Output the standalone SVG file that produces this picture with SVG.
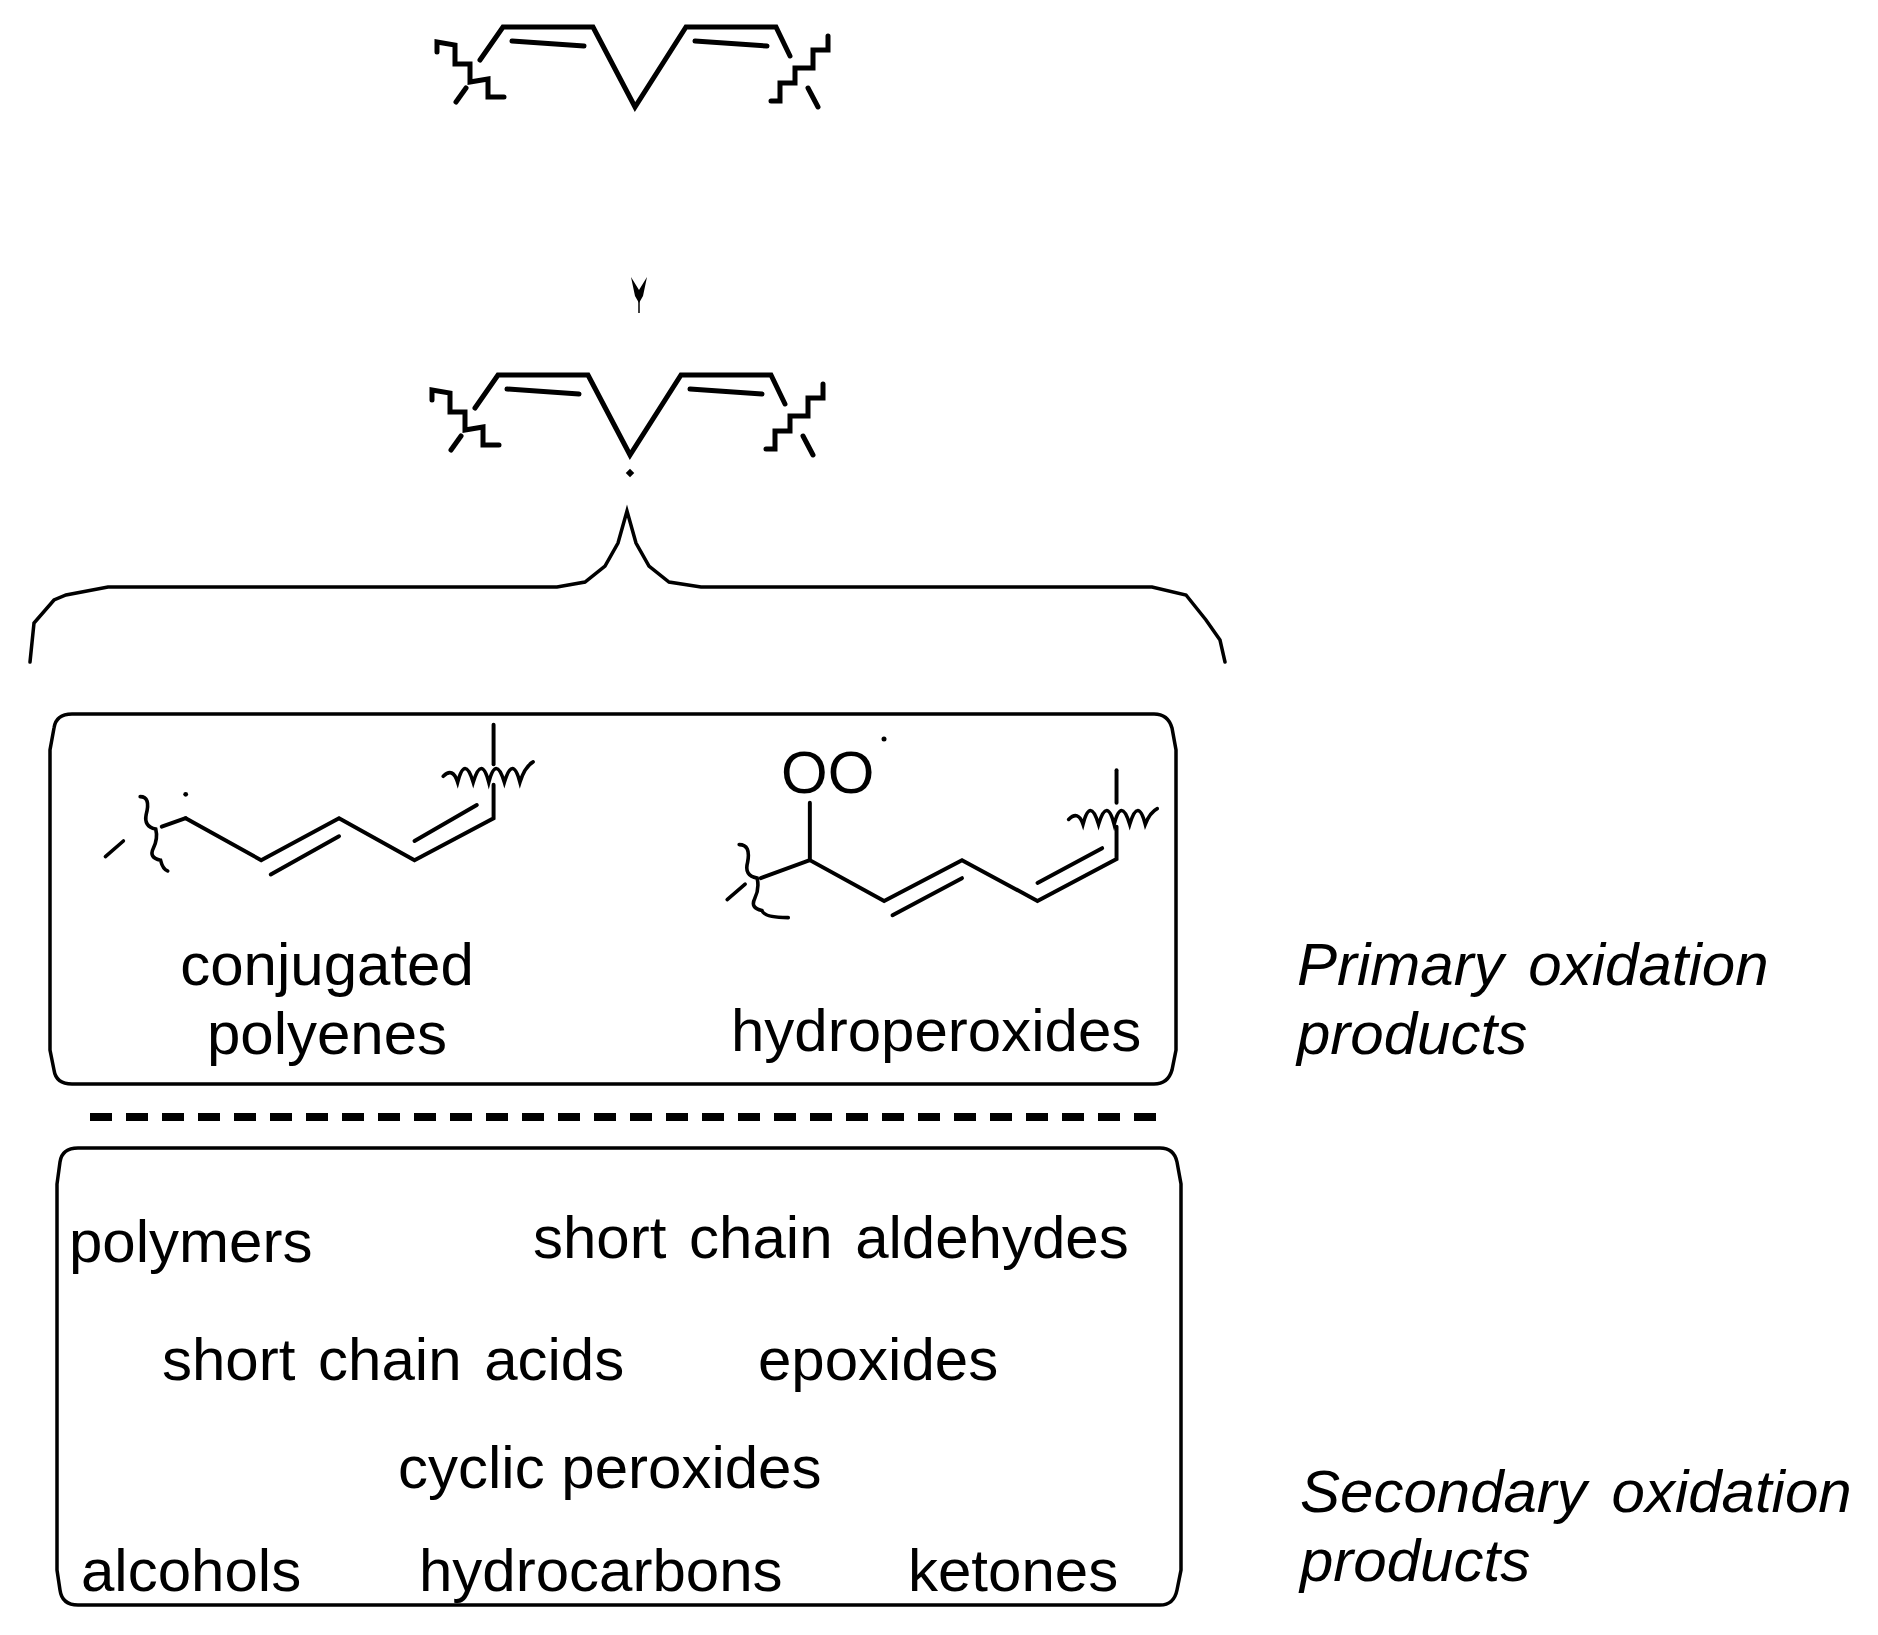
<svg xmlns="http://www.w3.org/2000/svg" width="1878" height="1635" viewBox="0 0 1878 1635">
<style>
.b{fill:none;stroke:#000;stroke-width:5;stroke-linecap:round;stroke-linejoin:miter}
.t{stroke-width:3}
.box{fill:none;stroke:#000;stroke-width:3.5}
text{font-family:"Liberation Sans",Arial,sans-serif;font-size:60px;fill:#000}
.i{font-style:italic}
</style>
<rect width="1878" height="1635" fill="#fff"/>
<g id="linoleic">
<polyline class="b" points="480,60 503,27 593,27 635,107 686,27 776,27 790,56"/>
<line class="b" x1="512" y1="41" x2="584" y2="46"/>
<line class="b" x1="695" y1="41" x2="767" y2="46"/>
<polyline class="b" points="437,52 437,42 455,45 455,64 470,64 470,82 488,79 488,97 504,97"/>
<line class="b" x1="456" y1="102" x2="466" y2="88"/>
<polyline class="b" points="828,36 828,50 813,50 813,68 795,68 795,83 780,83 780,101 771,101"/>
<line class="b" x1="808" y1="88" x2="818" y2="107"/>
</g>
<g id="arrow">
<path d="M631,277 L639,290 L647,277 L643,296 L639,303 L635,296 Z" fill="#000"/>
<line x1="639" y1="300" x2="639" y2="313" stroke="#000" stroke-width="1.5"/>
</g>
<g id="radical" transform="translate(-5,348)">
<polyline class="b" points="480,60 503,27 593,27 635,107 686,27 776,27 790,56"/>
<line class="b" x1="512" y1="41" x2="584" y2="46"/>
<line class="b" x1="695" y1="41" x2="767" y2="46"/>
<polyline class="b" points="437,52 437,42 455,45 455,64 470,64 470,82 488,79 488,97 504,97"/>
<line class="b" x1="456" y1="102" x2="466" y2="88"/>
<polyline class="b" points="828,36 828,50 813,50 813,68 795,68 795,83 780,83 780,101 771,101"/>
<line class="b" x1="808" y1="88" x2="818" y2="107"/>
</g>
<rect x="627" y="470" width="6" height="6" transform="rotate(45 630 473)" fill="#000"/>
<g id="connectors">
<path class="b" style="stroke-width:3.5" stroke-linecap="butt" d="M30,662 L34,623 L54,600 L66,595 L108,587 L557,587 L585,582 L605,566 L618,543 L627,511 L636,543 L649,566 L669,582 L701,587 L1152,587 L1186,595 L1206,620 L1220,640 L1225,662"/>
<line x1="90" y1="1117" x2="1162" y2="1117" stroke="#000" stroke-width="8" stroke-dasharray="22,14"/>
</g>
<g id="primary">
<path class="box" d="M72,714 L1154,714 Q1168,714 1172,728 L1176,750 L1176,1050 L1172,1070 Q1168,1084 1154,1084 L72,1084 Q56,1084 54,1070 L50,1050 L50,750 L54,728 Q56,714 72,714 Z"/>
<g transform="scale(1.198)">
<polyline class="b" style="stroke-width:3.3" points="155,683 218,718 283,683 346,718 412,683 412,655"/>
<line class="b" style="stroke-width:3.3" x1="226" y1="730" x2="283" y2="698"/>
<line class="b" style="stroke-width:3.3" x1="346" y1="702" x2="398" y2="672"/>
<line class="b" style="stroke-width:3.3" x1="412" y1="605" x2="412" y2="638"/>
<path class="b" style="stroke-width:3" d="M370,648 Q378,640 382,653 Q388,630 395,653 Q402,630 408,653 Q414,630 421,653 Q428,630 434,653 Q438,640 445,636"/>
<path class="b" style="stroke-width:3" d="M117,665 Q126,665 122,680 Q120,690 130,692 Q132,700 128,708 Q124,716 134,718 Q136,726 140,727"/>
<line class="b" style="stroke-width:3" x1="88" y1="715" x2="103" y2="702"/>
<line class="b" style="stroke-width:3.3" x1="135" y1="690" x2="155" y2="683"/>
<circle cx="155" cy="663" r="2" fill="#000"/>
<polyline class="b" style="stroke-width:3.3" points="676,670 676,718 738,752 803,718 866,752 932,717 932,690"/>
<line class="b" style="stroke-width:3.3" x1="745" y1="764" x2="803" y2="733"/>
<line class="b" style="stroke-width:3.3" x1="866" y1="737" x2="920" y2="708"/>
<line class="b" style="stroke-width:3.3" x1="932" y1="643" x2="932" y2="670"/>
<path class="b" style="stroke-width:3" d="M892,684 Q900,676 904,688 Q910,665 917,688 Q924,665 930,688 Q936,665 943,688 Q950,665 956,688 Q960,678 966,675"/>
<path class="b" style="stroke-width:3" d="M617,705 Q627,705 624,720 Q621,731 632,733 Q634,742 630,750 Q626,758 636,760 Q638,766 658,766"/>
<line class="b" style="stroke-width:3" x1="607" y1="751" x2="622" y2="738"/>
<line class="b" style="stroke-width:3.3" x1="635" y1="733" x2="676" y2="718"/>
</g>
<text x="781" y="793">OO</text>
<circle cx="884" cy="739" r="2.5" fill="#000"/>
<text x="327" y="985" text-anchor="middle">conjugated</text>
<text x="327" y="1054" text-anchor="middle">polyenes</text>
<text x="731" y="1051">hydroperoxides</text>
</g>
<g id="secondary">
<path class="box" d="M78,1148 L1160,1148 Q1174,1148 1177,1162 L1181,1184 L1181,1570 L1177,1590 Q1174,1605 1160,1605 L78,1605 Q62,1605 60,1590 L57,1570 L57,1184 L60,1162 Q62,1148 78,1148 Z"/>
<text x="69" y="1262">polymers</text>
<text x="533" y="1258" word-spacing="6">short chain aldehydes</text>
<text x="162" y="1380" word-spacing="6">short chain acids</text>
<text x="758" y="1380">epoxides</text>
<text x="398" y="1488">cyclic peroxides</text>
<text x="81" y="1591">alcohols</text>
<text x="419" y="1591">hydrocarbons</text>
<text x="908" y="1591">ketones</text>
</g>
<g id="labels">
<text class="i" x="1297" y="985" word-spacing="8">Primary oxidation</text>
<text class="i" x="1297" y="1054">products</text>
<text class="i" x="1300" y="1512" word-spacing="8">Secondary oxidation</text>
<text class="i" x="1300" y="1581">products</text>
</g>
</svg>
